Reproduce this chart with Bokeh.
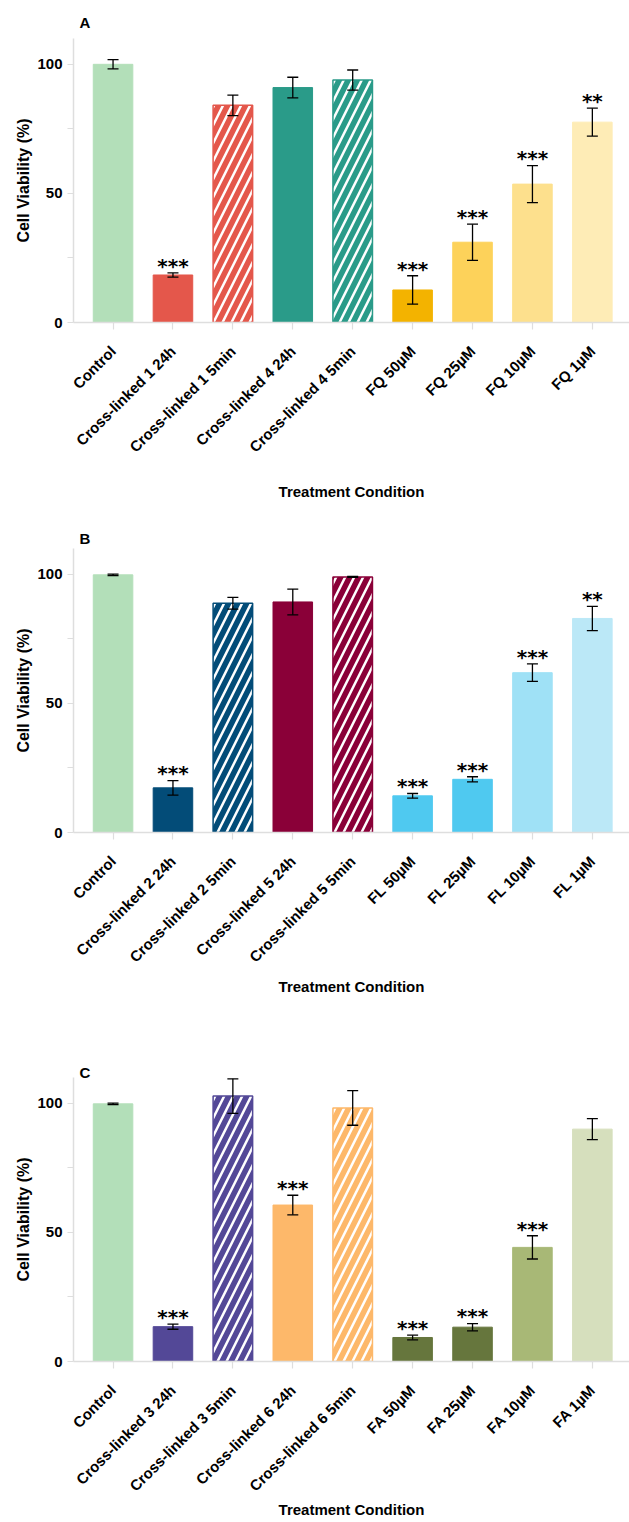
from bokeh.plotting import figure
from bokeh.models import Range1d, FixedTicker, ColumnDataSource, Whisker, TeeHead
from bokeh.layouts import column
from bokeh.embed import file_html
from bokeh.resources import INLINE
from bokeh.core.properties import value

# ---------------- data ----------------
categories_a = ["Control", "Cross-linked 1 24h", "Cross-linked 1 5min", "Cross-linked 4 24h",
                "Cross-linked 4 5min", "FQ 50µM", "FQ 25µM", "FQ 10µM", "FQ 1µM"]
means_a = [100.0, 18.4, 84.1, 91.0, 93.9, 12.6, 31.1, 53.6, 77.6]
sd_a = [1.8, 0.8, 4.0, 4.0, 3.9, 5.5, 7.0, 7.2, 5.4]
stars_a = ["", "***", "", "", "", "***", "***", "***", "**"]
colors_a = ["#b3dfb9", "#e4574b", "#e4574b", "#2a9b89", "#2a9b89",
            "#f3b300", "#fdd25a", "#fde08d", "#feecb6"]
hatch_a = [False, False, True, False, True, False, False, False, False]

categories_b = ["Control", "Cross-linked 2 24h", "Cross-linked 2 5min", "Cross-linked 5 24h",
                "Cross-linked 5 5min", "FL 50µM", "FL 25µM", "FL 10µM", "FL 1µM"]
means_b = [99.8, 17.3, 88.8, 89.3, 99.0, 14.2, 20.6, 61.9, 82.9]
sd_b = [0.3, 2.8, 2.3, 5.0, 0.2, 0.9, 1.0, 3.4, 4.7]
stars_b = ["", "***", "", "", "", "***", "***", "***", "**"]
colors_b = ["#b3dfb9", "#034c78", "#034c78", "#8a0038", "#8a0038",
            "#4fc9f0", "#4fc9f0", "#9fe1f6", "#bbe8f7"]
hatch_b = [False, False, True, False, True, False, False, False, False]

categories_c = ["Control", "Cross-linked 3 24h", "Cross-linked 3 5min", "Cross-linked 6 24h",
                "Cross-linked 6 5min", "FA 50µM", "FA 25µM", "FA 10µM", "FA 1µM"]
means_c = [99.8, 13.5, 102.8, 60.6, 98.2, 9.3, 13.3, 44.2, 90.0]
sd_c = [0.3, 1.0, 6.7, 3.8, 6.7, 0.9, 1.4, 4.5, 4.1]
stars_c = ["", "***", "", "***", "", "***", "***", "***", ""]
colors_c = ["#b3dfb9", "#534897", "#534897", "#fdb86a", "#fdb86a",
            "#66763d", "#66763d", "#a8b876", "#d6dfbd"]
hatch_c = [False, False, True, False, True, False, False, False, False]

y_ticks = [0, 50, 100]
y_minor = [25, 75]

FONT = "Liberation Sans"
AXIS_GRAY = "#dedede"
STAR_GAP = 2.8  # gap above the error-bar cap, in data units


def make_panel(letter, cats, means, sds, stars, colors, hatched,
               height, border_top, border_bottom, title_standoff, xlabel_standoff):
    n = len(cats)
    xs = list(range(1, n + 1))
    p = figure(width=629, height=height, x_range=Range1d(0.34, 9.62),
               y_range=Range1d(0, 110), output_backend="svg", toolbar_location=None,
               min_border_left=73, min_border_right=0, min_border_top=border_top,
               min_border_bottom=border_bottom)
    p.outline_line_color = None
    p.xgrid.visible = False
    p.ygrid.visible = False
    p.background_fill_color = "white"
    p.border_fill_color = "white"

    p.title.text = letter
    p.title.align = "left"
    p.title.offset = 6
    p.title.standoff = title_standoff
    p.title.text_font = FONT
    p.title.text_font_size = "15px"
    p.title.text_font_style = "bold"
    p.title.text_color = "black"

    solid = [i for i in range(n) if not hatched[i]]
    hat = [i for i in range(n) if hatched[i]]
    src_solid = ColumnDataSource(dict(x=[xs[i] for i in solid], top=[means[i] for i in solid],
                                      color=[colors[i] for i in solid]))
    src_hat = ColumnDataSource(dict(x=[xs[i] for i in hat], top=[means[i] for i in hat],
                                    color=[colors[i] for i in hat]))
    p.vbar(x="x", top="top", bottom=0, width=0.66, source=src_solid,
           fill_color="color", line_color="color", line_width=1)
    p.vbar(x="x", top="top", bottom=0, width=0.66, source=src_hat,
           fill_color="color", line_color="color", line_width=1.5,
           hatch_pattern="/", hatch_color="white", hatch_alpha=1.0,
           hatch_weight=2.5, hatch_scale=18)

    upper = [m + s for m, s in zip(means, sds)]
    lower = [m - s for m, s in zip(means, sds)]
    err = ColumnDataSource(dict(x=xs, upper=upper, lower=lower))
    wk = Whisker(base="x", upper="upper", lower="lower", source=err,
                 line_color="black", line_width=1.3, level="overlay",
                 upper_head=TeeHead(size=11, line_color="black", line_width=1.3),
                 lower_head=TeeHead(size=11, line_color="black", line_width=1.3))
    p.add_layout(wk)

    st_idx = [i for i in range(n) if stars[i]]
    st_src = ColumnDataSource(dict(x=[xs[i] for i in st_idx],
                                   y=[upper[i] + STAR_GAP for i in st_idx],
                                   t=[stars[i] for i in st_idx]))
    p.text(x="x", y="y", text="t", source=st_src, text_font=value("DejaVu Sans"),
           text_font_style="bold", text_font_size="20px", text_align="center",
           text_baseline="alphabetic", text_color="black")

    # y axis
    ya = p.yaxis[0]
    ya.ticker = FixedTicker(ticks=y_ticks, minor_ticks=y_minor)
    ya.axis_label = "Cell Viability (%)"
    ya.axis_label_text_font = FONT
    ya.axis_label_text_font_size = "16px"
    ya.axis_label_text_font_style = "bold"
    ya.axis_label_text_color = "black"
    ya.axis_label_standoff = 2
    ya.major_label_text_font = FONT
    ya.major_label_text_font_size = "15px"
    ya.major_label_text_font_style = "bold"
    ya.major_label_text_color = "black"
    ya.major_label_standoff = 5
    ya.major_tick_out = 6
    ya.major_tick_in = 0
    ya.minor_tick_out = 6
    ya.minor_tick_in = 0
    ya.axis_line_color = AXIS_GRAY
    ya.axis_line_width = 1.5
    ya.major_tick_line_color = AXIS_GRAY
    ya.minor_tick_line_color = AXIS_GRAY
    ya.major_tick_line_width = 1.2
    ya.minor_tick_line_width = 1.2

    # x axis
    xa = p.xaxis[0]
    xa.ticker = FixedTicker(ticks=xs, minor_ticks=[])
    xa.major_label_overrides = {x: c for x, c in zip(xs, cats)}
    xa.major_label_orientation = 0.785398
    xa.major_label_text_font = FONT
    xa.major_label_text_font_size = "15px"
    xa.major_label_text_font_style = "bold"
    xa.major_label_text_color = "black"
    xa.major_label_standoff = 19
    xa.major_tick_out = 7
    xa.major_tick_in = 0
    xa.axis_label = "Treatment Condition"
    xa.axis_label_text_font = FONT
    xa.axis_label_text_font_size = "15px"
    xa.axis_label_text_font_style = "bold"
    xa.axis_label_text_color = "black"
    xa.axis_label_standoff = xlabel_standoff
    xa.axis_line_color = AXIS_GRAY
    xa.axis_line_width = 1.5
    xa.major_tick_line_color = AXIS_GRAY
    xa.major_tick_line_width = 1.2
    return p


pa = make_panel("A", categories_a, means_a, sd_a, stars_a, colors_a, hatch_a,
                518, 38, 196, 15, 19)
pb = make_panel("B", categories_b, means_b, sd_b, stars_b, colors_b, hatch_b,
                529, 30, 215, 3, 4)
pc = make_panel("C", categories_c, means_c, sd_c, stars_c, colors_c, hatch_c,
                475, 30, 161, -7, -2)

layout = column(pa, pb, pc, spacing=0)
open("out.html", "w").write(file_html(layout, INLINE))
